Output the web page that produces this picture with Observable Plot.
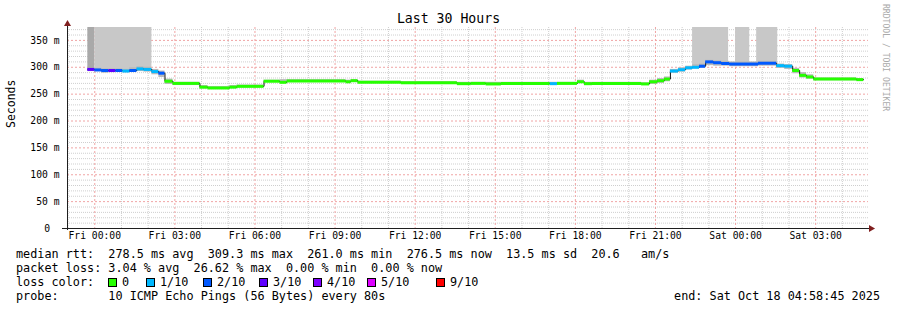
<!DOCTYPE html>
<html><head><meta charset="utf-8">
<script src="https://cdn.jsdelivr.net/npm/d3@7"></script>
<script src="https://cdn.jsdelivr.net/npm/@observablehq/plot@0.6"></script>
<style>
html,body{margin:0;padding:0;background:#fff;}
#wrap{position:relative;width:897px;height:310px;overflow:hidden;font-family:"DejaVu Sans Mono",monospace;color:#000;background:#fff;}
#title{height:26px;box-sizing:border-box;padding-top:11px;line-height:16px;font-size:13.2px;text-align:center;white-space:pre;}
#chart{height:220px;}
.ln{position:absolute;white-space:pre;font-size:11.8px;line-height:14px;height:14px;}
.sq{position:absolute;width:7px;height:7px;border:1px solid #000;}
#credit{position:absolute;left:881px;top:4px;writing-mode:vertical-rl;font-size:8.1px;color:#aaa;white-space:pre;line-height:10px;}
</style></head>
<body>
<div id="wrap">
  <div id="title">Last 30 Hours</div>
  <div id="chart"></div>
  <div id="credit">RRDTOOL / TOBI OETIKER</div>
  <div id="legend"></div>
</div>
<script>
// ---- data (hours relative to Fri 00:00) ----
const segStart = [-0.26,0,0.26,0.53,0.79,1.05,1.31,1.58,1.84,2.14,2.40,2.63,2.93,3.94,4.24,5.06,5.33,6.34,6.94,7.20,9.41,9.60,9.86,11.48,13.58,14.10,14.66,15.23,17.06,17.33,18.08,18.34,18.64,20.48,20.78,21.08,21.34,21.56,21.86,22.13,22.39,22.65,22.88,23.18,23.48,23.78,24.86,25.54,25.84,26.14,26.40,26.66,26.93,28.54];
const dataEnd = 28.80;
const median = [296,295,294,294,294,293,294,297,296,292,289,274,270,263,261.5,263,264.5,274,272,274.5,273,275,272,271,269.5,270,269,270,269.5,270,273,269.5,270,269,273,275,278,293,295.5,299,300,302,310,308.5,307,306,307.5,303,302,294,285,282,278,277];
const lossCount = [3,2,2,3,2,1,2,1,1,1,2,0,0,0,0,0,0,0,0,0,0,0,0,0,0,0,0,0,1,0,0,0,0,0,0,0,0,1,1,1,1,2,2,2,2,2,2,1,1,0,0,0,0,0];
const smokeLo = [292,292,289,290,291,290,291,292,291,286,281,268,266,260,259,261,262,272,270,272,271,272,270,268,267,268,266,268,267,267,271,266,268,267,268,270,273,289,291,295,297,298,303,302,302,301,302,298,296,288,280,278,275,274];
const smokeHi = [298,298,297,297,297,296,299,301,300,296,293,278,272,266,264,266,267,276,277,277,276,277,274,273,272,272,272,272,272,272,276,272,272,271,276,279,282,296,299,302,305,306,313,312,311,310,311,306,305,298,290,286,280,279];
const topStart = [-0.26, 0, 22.39, 24.0, 24.79];
const topEnd   = [0, 2.14, 23.74, 24.53, 25.58];
const topFrom  = [296, 295, 304, 306, 306];
const topDense = [true, false, false, false, false];

const xDomain = [-1.021, 28.979];
const yDomain = [0, 374];
const xTickHours = [0,3,6,9,12,15,18,21,24,27];
const xTickLabels = ["Fri 00:00","Fri 03:00","Fri 06:00","Fri 09:00","Fri 12:00","Fri 15:00","Fri 18:00","Fri 21:00","Sat 00:00","Sat 03:00"];
const yTickVals = [0,50,100,150,200,250,300,350];
const yTickLabels = ["0","50 m","100 m","150 m","200 m","250 m","300 m","350 m"];

const lossKeys = [0,1,2,3,4,5,9];
const lossLabels = ["0","1/10","2/10","3/10","4/10","5/10","9/10"];
const lossPalette = ["#26ff00","#00b8ff","#0059ff","#5e00ff","#7e00ff","#dd00ff","#ff0000"];

const statsLine = "median rtt:  278.5 ms avg  309.3 ms max  261.0 ms min  276.5 ms now  13.5 ms sd  20.6   am/s";
const lossLine = "packet loss: 3.04 % avg  26.62 % max  0.00 % min  0.00 % now";
const probeLine = "probe:       10 ICMP Echo Pings (56 Bytes) every 80s";
const endLine = "end: Sat Oct 18 04:58:45 2025";

// ---- derived tables ----
const lossColor = k => lossPalette[lossKeys.indexOf(k)];
const segs = segStart.map((t, i) => ({
  t0: t, t1: i + 1 < segStart.length ? segStart[i + 1] : dataEnd,
  m: median[i], c: lossColor(lossCount[i]), lo: smokeLo[i], hi: smokeHi[i]
}));
const stepPts = segs.map(s => ({t: s.t0, m: s.m})).concat([{t: dataEnd, m: median[median.length - 1]}]);
const tops = topStart.map((t, i) => ({t0: t, t1: topEnd[i], y1: topFrom[i], dense: topDense[i]}));

const minorX = d3.range(-1, 29).filter(h => h % 3 !== 0);
const majorX = d3.range(0, 28, 3);
const minorY = d3.range(10, 374, 10).filter(v => v % 50 !== 0);
const majorY = d3.range(50, 374, 50);

const axisColor = "#1f1f1f", arrowColor = "#801f1f";
const minorGrid = "#cfcfcf", majorGrid = "#f0a4a4";

const chart = Plot.plot({
  width: 897, height: 220,
  marginLeft: 67, marginRight: 29, marginTop: 1, marginBottom: 18,
  x: {domain: xDomain, axis: null},
  y: {domain: yDomain, axis: null},
  color: {type: "identity"},
  style: {overflow: "visible", fontFamily: "'DejaVu Sans Mono', monospace", fontSize: "9.7px", background: "#fff", color: "#000"},
  marks: [
    Plot.ruleX(minorX, {x: d => d, stroke: minorGrid, strokeDasharray: "1,1"}),
    Plot.ruleY(minorY, {y: d => d, stroke: minorGrid, strokeDasharray: "1,1"}),
    Plot.ruleX(majorX, {x: d => d, stroke: majorGrid, strokeDasharray: "2,2"}),
    Plot.ruleY(majorY, {y: d => d, stroke: majorGrid, strokeDasharray: "2,2"}),
    Plot.rect(tops, {x1: "t0", x2: "t1", y1: "y1", y2: () => yDomain[1], fill: d => d.dense ? "#a9a9a9" : "#c8c8c8"}),
    Plot.rect(segs, {x1: "t0", x2: "t1", y1: "lo", y2: "hi", fill: "#b9b9b9"}),
    Plot.line(stepPts, {x: "t", y: "m", curve: "step-after", stroke: "#111", strokeWidth: 1}),
    Plot.ruleY(segs, {y: "m", x1: "t0", x2: "t1", stroke: "c", strokeWidth: 3}),
    Plot.ruleY([0], {stroke: axisColor, insetLeft: -5, insetRight: -2}),
    Plot.ruleX([xDomain[0]], {stroke: axisColor, insetTop: -3, insetBottom: -2}),
    Plot.dot([0], {x: () => xDomain[0], y: () => yDomain[1], symbol: "triangle", r: 2.6, fill: arrowColor, dy: -3.5}),
    Plot.dot([0], {x: () => xDomain[1], y: () => 0, symbol: "triangle", rotate: 90, r: 2.6, fill: arrowColor, dx: 2.5}),
    Plot.text(xTickHours, {x: d => d, text: (d, i) => xTickLabels[i], frameAnchor: "bottom", dy: 10, fontSize: 9.7}),
    Plot.text(yTickVals.slice(1), {y: d => d, text: (d, i) => yTickLabels[i + 1], frameAnchor: "left", textAnchor: "end", dx: -8, fontSize: 9.7}),
    Plot.text(yTickVals.slice(0, 1), {y: d => d, text: (d, i) => yTickLabels[i], frameAnchor: "left", textAnchor: "end", dx: -17.5, fontSize: 9.7}),
    Plot.text(["Seconds"], {text: d => d, frameAnchor: "left", dx: -56, rotate: -90, fontSize: 11.5})
  ]
});
document.getElementById("chart").appendChild(chart);

// ---- legend below ----
const legend = document.getElementById("legend");
function line(text, top, left, right) {
  const d = document.createElement("div");
  d.className = "ln";
  d.textContent = text;
  d.style.top = top + "px";
  if (right != null) d.style.right = right + "px"; else d.style.left = left + "px";
  legend.appendChild(d);
}
line(statsLine, 247, 16);
line(lossLine, 261, 16);
line("loss color:", 275, 16);
const sqLeft = [108, 146, 203, 259, 313, 367, 436];
const lbLeft = [122, 160, 217, 273, 327, 381, 450];
lossLabels.forEach((lab, i) => {
  const s = document.createElement("div");
  s.className = "sq";
  s.style.left = sqLeft[i] + "px";
  s.style.top = "278px";
  s.style.background = lossPalette[i];
  legend.appendChild(s);
  line(lab, 275, lbLeft[i]);
});
line(probeLine, 289, 16);
line(endLine, 289, null, 17);
</script>
</body></html>
